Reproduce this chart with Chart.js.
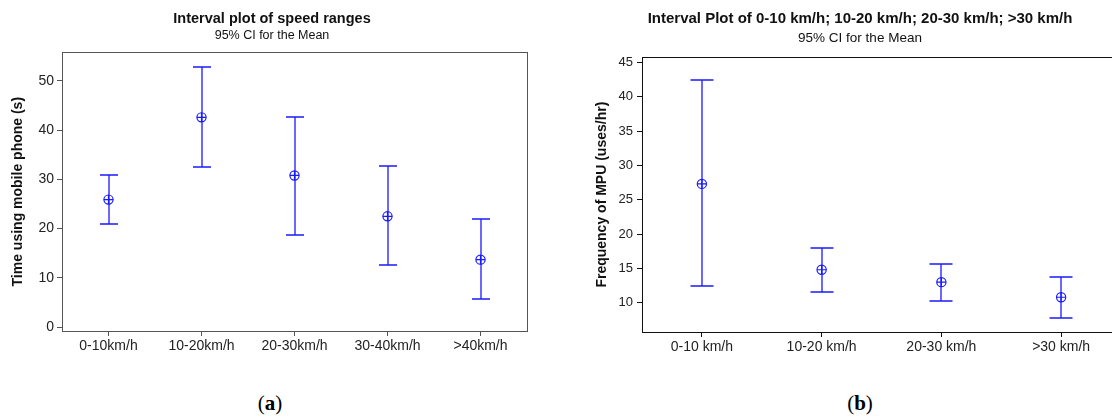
<!DOCTYPE html>
<html>
<head>
<meta charset="utf-8">
<title>Interval plots</title>
<script src="https://cdn.jsdelivr.net/npm/chart.js@4.4.1/dist/chart.umd.min.js"></script>
<style>
    html, body { margin: 0; padding: 0; background: #fff; overflow: hidden; width: 1112px; height: 418px; }
    canvas { position: absolute; top: 0; }
    .panel {
        position: absolute; top: 391px; transform: translateX(-50%);
        font-family: 'Liberation Serif', 'DejaVu Serif', serif; font-size: 21px; color: #000;
    }
</style>
</head>
<body>
<canvas id="chartA" width="544" height="370" style="left:0"></canvas>
<canvas id="chartB" width="600" height="370" style="left:560px"></canvas>
<div class="panel" style="left:270px">(<b>a</b>)</div>
<div class="panel" style="left:860px">(<b>b</b>)</div>
<script>
// (a) time using mobile phone by speed range
const speedLabelsA = ['0-10km/h', '10-20km/h', '20-30km/h', '30-40km/h', '>40km/h'];
const meanTimeA = [25.9, 42.6, 30.8, 22.5, 13.7];
const lowerTimeA = [21.0, 32.5, 18.8, 12.6, 5.8];
const upperTimeA = [30.9, 52.9, 42.7, 32.7, 22.0];
const yTicksA = [0, 10, 20, 30, 40, 50];

// (b) frequency of MPU by speed range
const speedLabelsB = ['0-10 km/h', '10-20 km/h', '20-30 km/h', '>30 km/h'];
const meanFreqB = [27.3, 14.8, 13.0, 10.8];
const lowerFreqB = [12.4, 11.6, 10.2, 7.8];
const upperFreqB = [42.4, 18.0, 15.6, 13.7];
const yTicksB = [10, 15, 20, 25, 30, 35, 40, 45];

const BLUE = '#1a1aff';

Chart.defaults.font.family = "'Liberation Sans', Arial, sans-serif";
Chart.defaults.color = '#222';

// vertical CI lines with caps, placed through the chart scales
const intervalPlugin = {
    id: 'intervals',
    beforeDatasetsDraw(chart, args, opts) {
        const ctx = chart.ctx;
        const xs = chart.scales.x, ys = chart.scales.y;
        ctx.save();
        ctx.strokeStyle = opts.color;
        ctx.lineWidth = 1.3;
        opts.lower.forEach((lo, i) => {
            const px = Math.round(xs.getPixelForValue(i));
            const yLo = Math.round(ys.getPixelForValue(lo));
            const yHi = Math.round(ys.getPixelForValue(opts.upper[i]));
            ctx.beginPath();
            ctx.moveTo(px, yLo); ctx.lineTo(px, yHi);
            ctx.moveTo(px - opts.cap, yLo); ctx.lineTo(px + opts.cap, yLo);
            ctx.moveTo(px - opts.cap, yHi); ctx.lineTo(px + opts.cap, yHi);
            ctx.stroke();
        });
        ctx.restore();
    }
};

// box around the plot area
const framePlugin = {
    id: 'frame',
    afterDraw(chart, args, opts) {
        const a = chart.chartArea;
        const ctx = chart.ctx;
        ctx.save();
        ctx.strokeStyle = opts.color;
        ctx.lineWidth = 1;
        const l = Math.round(a.left) + 0.5, t = Math.round(a.top) + 0.5;
        const r = Math.round(a.right) + 0.5, b = Math.round(a.bottom) + 0.5;
        ctx.strokeRect(l, t, r - l, b - t);
        ctx.restore();
    }
};

function meanDatasets(values) {
    return [
        { data: values, showLine: false, pointStyle: 'circle', pointRadius: 4.6,
          pointBorderColor: BLUE, pointBackgroundColor: 'rgba(0,0,0,0)', pointBorderWidth: 1.2 },
        { data: values, showLine: false, pointStyle: 'cross', pointRadius: 4.6,
          pointBorderColor: BLUE, pointBorderWidth: 1.2 }
    ];
}

function makeChart(id, cfg) {
    return new Chart(document.getElementById(id), {
        type: 'line',
        data: { labels: cfg.labels, datasets: meanDatasets(cfg.means) },
        plugins: [intervalPlugin, framePlugin],
        options: {
            responsive: false,
            animation: false,
            events: [],
            // left padding keeps the titles centred where the original has them
            layout: { padding: { left: cfg.padLeft, right: cfg.padRight, top: 0, bottom: 0 } },
            plugins: {
                legend: { display: false },
                tooltip: { enabled: false },
                title: {
                    display: true, text: cfg.title, color: '#111',
                    font: { size: cfg.titleSize, weight: 'bold' },
                    padding: { top: cfg.titleTop, bottom: 0 }
                },
                subtitle: {
                    display: true, text: '95% CI for the Mean', color: '#111',
                    font: { size: cfg.subSize },
                    padding: { top: cfg.subTop, bottom: cfg.subBottom }
                },
                intervals: { lower: cfg.lower, upper: cfg.upper, cap: cfg.cap, color: BLUE },
                frame: { color: cfg.frameColor }
            },
            scales: {
                x: {
                    offset: true,
                    afterFit: s => { s.height = cfg.xHeight; },
                    grid: { drawOnChartArea: false, offset: false, tickLength: 5, color: cfg.frameColor },
                    border: { display: false },
                    ticks: { font: { size: 14 }, padding: 2, maxRotation: 0, autoSkip: false }
                },
                y: {
                    min: cfg.yMin, max: cfg.yMax,
                    afterBuildTicks: s => { s.ticks = cfg.yTicks.map(v => ({ value: v })); },
                    afterFit: s => { s.width = cfg.yWidth; },
                    grid: { drawOnChartArea: false, tickLength: 5, color: cfg.frameColor },
                    border: { display: false },
                    ticks: { font: { size: cfg.yTickSize }, padding: cfg.yTickPad },
                    title: {
                        display: true, text: cfg.yTitle, color: '#111',
                        font: { size: 14, weight: 'bold' },
                        padding: { top: cfg.yTitlePad, bottom: 0 }
                    }
                }
            }
        }
    });
}

makeChart('chartA', {
    labels: speedLabelsA, means: meanTimeA, lower: lowerTimeA, upper: upperTimeA,
    yTicks: yTicksA, yMin: -0.8, yMax: 55.8,
    title: 'Interval plot of speed ranges', titleSize: 14.5, titleTop: 10,
    subSize: 12.5, subTop: 1, subBottom: 9,
    yTitle: 'Time using mobile phone (s)', yTitlePad: -7.4,
    padLeft: 17, yWidth: 45, xHeight: 39, padRight: 17, yTickSize: 14, yTickPad: 3,
    cap: 9, frameColor: '#555'
});

makeChart('chartB', {
    labels: speedLabelsB, means: meanFreqB, lower: lowerFreqB, upper: upperFreqB,
    yTicks: yTicksB, yMin: 5.74, yMax: 45.73,
    title: 'Interval Plot of 0-10 km/h; 10-20 km/h; 20-30 km/h; >30 km/h', titleSize: 15, titleTop: 10.3,
    subSize: 13.5, subTop: 2, subBottom: 10.8,
    yTitle: 'Frequency of MPU (uses/hr)', yTitlePad: -5.7,
    padLeft: 39, yWidth: 43, xHeight: 38, padRight: 39, yTickSize: 13, yTickPad: 4,
    cap: 11.5, frameColor: '#111'
});
</script>
</body>
</html>
